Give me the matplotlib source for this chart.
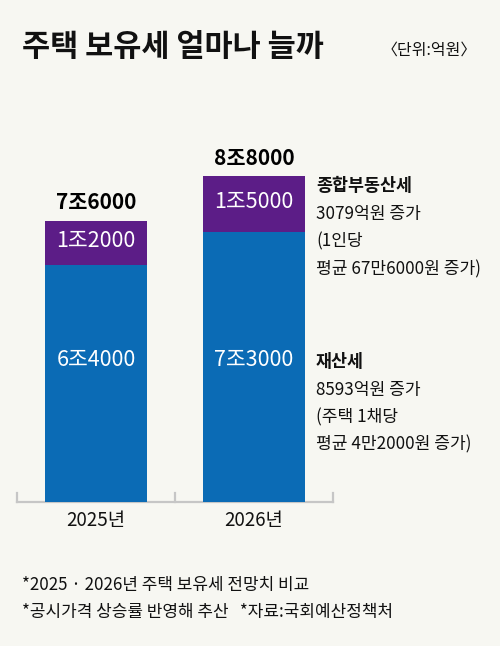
import numpy as np
import matplotlib
matplotlib.use('Agg')
import matplotlib.pyplot as plt

plt.rcParams['font.family'] = ['Noto Sans CJK KR', 'DejaVu Sans']

# data (unit: 조 원)
years = ['2025년', '2026년']
property_tax = [6.4, 7.3]          # 재산세
comprehensive_tax = [1.2, 1.5]     # 종합부동산세
property_labels = ['6조4000', '7조3000']
comp_labels = ['1조2000', '1조5000']
total_labels = ['7조6000', '8조8000']

BG = '#f7f7f2'
BLUE = '#0b6bb5'
PURPLE = '#5c1d87'

W, H = 500, 646
fig = plt.figure(figsize=(W / 100, H / 100), dpi=100, facecolor=BG)

# axes placed in pixel terms: x 17..333, baseline at y=502
ax_left, ax_right = 17, 333
base_y, top_y = 502, 132
ax = fig.add_axes([ax_left / W, 1 - base_y / H, (ax_right - ax_left) / W, (base_y - top_y) / H])
ax.set_facecolor(BG)
ax.set_xlim(-0.5, 1.5)
ax.set_ylim(0, 10)

x = np.arange(len(years))
bw = 0.645
ax.bar(x, property_tax, bw, color=BLUE, zorder=2)
ax.bar(x, comprehensive_tax, bw, bottom=property_tax, color=PURPLE, zorder=2)

for i in range(len(years)):
    ax.text(x[i], 3.84, property_labels[i], ha='center', va='center',
            color='white', fontsize=15.5)
    ax.text(x[i], property_tax[i] + comprehensive_tax[i] / 2 + 0.05, comp_labels[i],
            ha='center', va='center', color='white', fontsize=15.5)
    ax.text(x[i], property_tax[i] + comprehensive_tax[i] + 0.2, total_labels[i],
            ha='center', va='bottom', color='black', fontsize=15, fontweight='bold')

for s in ax.spines.values():
    s.set_visible(False)
ax.set_yticks([])
ax.set_xticks([])
# baseline with upward ticks
ax.plot([-0.5, 1.5], [0, 0], color='#c6c6c6', lw=1.6, clip_on=False, zorder=1)
for tx in [-0.5, 0.5, 1.5]:
    ax.plot([tx, tx], [0, 0.24], color='#c6c6c6', lw=1.6, clip_on=False, zorder=1)
for i in range(len(years)):
    ax.text(x[i], -0.5, years[i], ha='center', va='center', fontsize=13.5, color='#111111')

# title and unit
fig.text(22 / W, 1 - 47 / H, '주택 보유세 얼마나 늘까', fontsize=22, fontweight='bold',
         ha='left', va='center', color='#111111')
fig.text(477 / W, 1 - 50 / H, '〈단위:억원〉', fontsize=11.5, ha='right', va='center', color='#111111')

# right-side notes
notes_comp = ['3079억원 증가', '(1인당', '평균 67만6000원 증가)']
notes_prop = ['8593억원 증가', '(주택 1채당', '평균 4만2000원 증가)']
fig.text(316 / W, 1 - 186 / H, '종합부동산세', fontsize=12.5, fontweight='bold', va='center', color='#111111')
for j, t in enumerate(notes_comp):
    fig.text(316 / W, 1 - (214 + 27.5 * j) / H, t, fontsize=12.3, va='center', color='#111111')
fig.text(316 / W, 1 - 362 / H, '재산세', fontsize=12.5, fontweight='bold', va='center', color='#111111')
for j, t in enumerate(notes_prop):
    fig.text(316 / W, 1 - (390 + 27 * j) / H, t, fontsize=12.3, va='center', color='#111111')

# footnotes
fig.text(22 / W, 1 - 585 / H, '*2025 · 2026년 주택 보유세 전망치 비교', fontsize=12.2, va='center', color='#111111')
fig.text(22 / W, 1 - 612 / H, '*공시가격 상승률 반영해 추산   *자료:국회예산정책처', fontsize=12.2, va='center', color='#111111')

fig.savefig('out.png', dpi=100, facecolor=BG)
